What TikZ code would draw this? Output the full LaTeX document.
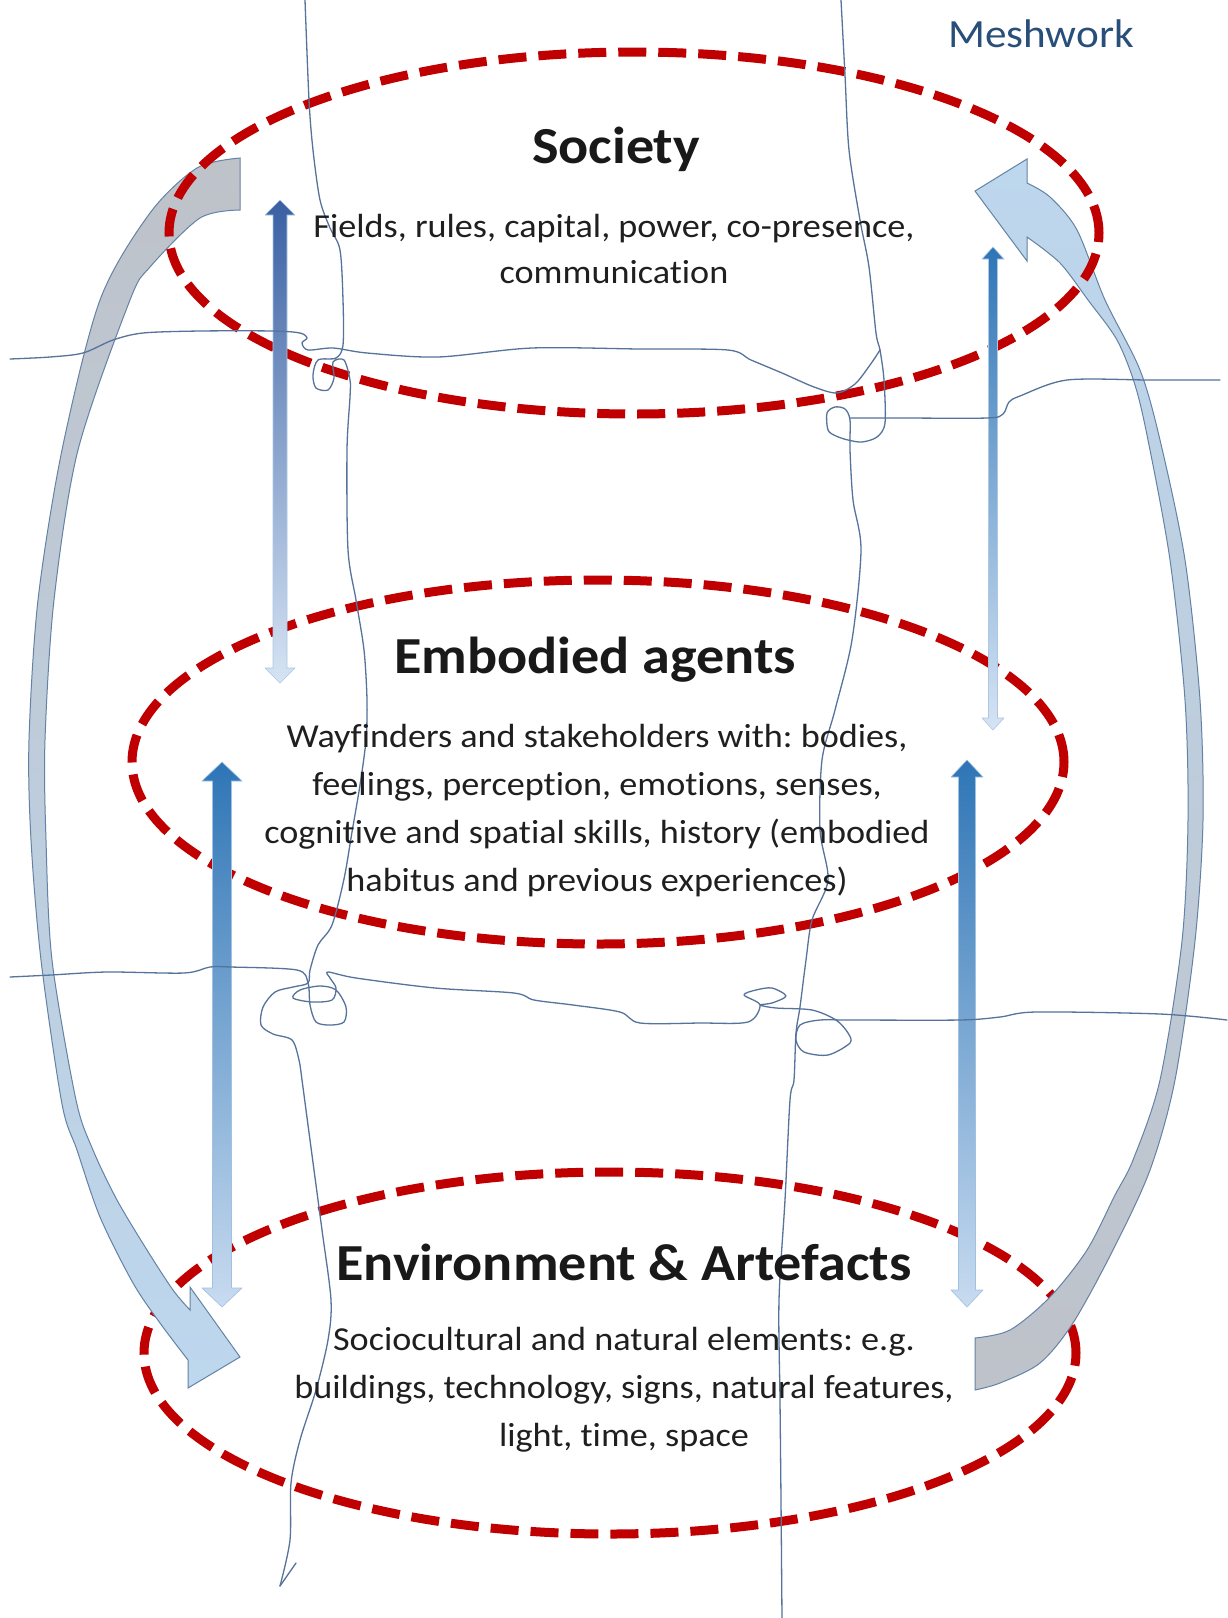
\documentclass[tikz,border=0pt]{standalone}
\usepackage{fontspec}
\setmainfont{Carlito}
\newfontfamily\calib[FakeStretch=1.08,Ligatures={NoCommon,NoRare,NoContextual}]{Carlito}
\usetikzlibrary{shapes.geometric}
\frenchspacing

\definecolor{dashred}{RGB}{192,0,0}
\definecolor{meshline}{RGB}{85,115,155}
\definecolor{meshtext}{RGB}{40,78,122}
\definecolor{arrgrey}{RGB}{190,194,201}
\definecolor{arrblue}{RGB}{189,215,238}
\definecolor{arredge}{RGB}{100,130,165}
\definecolor{vdark}{RGB}{46,117,182}
\definecolor{vdarkB}{RGB}{58,96,163}
\definecolor{vlight}{RGB}{214,228,244}
\definecolor{vlightB}{RGB}{200,219,240}

% double headed gradient arrow: x, y top tip, y bottom tip, head length, head half width, shaft half width, top colour, bottom colour
\newcommand{\dblarrow}[8]{%
  \shadedraw[top color=#7, bottom color=#8, draw=#8!75!vdark, line width=0.6pt, line join=round]
   (#1,#2) -- ({#1+#5},{#2+#4}) -- ({#1+#6},{#2+#4}) -- ({#1+#6},{#3-#4}) -- ({#1+#5},{#3-#4})
   -- (#1,#3) -- ({#1-#5},{#3-#4}) -- ({#1-#6},{#3-#4}) -- ({#1-#6},{#2+#4}) -- ({#1-#5},{#2+#4}) -- cycle;}

\begin{document}
\begin{tikzpicture}[x=1pt,y=-1pt,
  ring/.style={ellipse, draw=dashred, line width=9pt, dash pattern=on 28pt off 12pt, inner sep=0pt},
  thread/.style={draw=meshline, line width=1.3pt, line join=round, line cap=round},
  titletext/.style={anchor=base, font={\calib\bfseries\fontsize{52}{60}\selectfont}, text=black!90},
  bodytext/.style={anchor=base, font={\calib\fontsize{33.5}{45}\selectfont}, text=black!88},
  bigarrow/.style={draw=arredge, line width=1pt, line join=miter},
]
\fill[white] (0,0) rectangle (1227,1618);
\useasboundingbox (0,0) rectangle (1227,1618);

% lowest ring (behind the curved arrows)
\node[ring, minimum width=932pt, minimum height=362pt] (env) at (610,1353) {};

% left curved arrow (grey at top, blue at the head)
\shadedraw[bigarrow, top color=arrgrey, bottom color=arrblue]
  plot[smooth] coordinates {(240,158) (197,168) (150,213) (100,300) (62,450) (38,600) (29,740) (31,840) (41,960) (62,1104) (77,1150) (100,1217) (133,1283) (160,1323) (188,1360)}
  -- (188,1388) -- (240,1357) -- (190,1287) -- (190,1310)
  -- plot[smooth] coordinates {(190,1310) (173,1290) (147,1250) (117,1200) (93,1150) (76,1100) (52,960) (46,840) (45,740) (54,600) (78,450) (130,300) (150,267) (200,218) (240,210)}
  -- cycle;

% right curved arrow (grey at bottom, blue at the head)
\shadedraw[bigarrow, top color=arrblue, bottom color=arrgrey]
  plot[smooth] coordinates {(975,1338) (1010,1330) (1050,1297) (1087,1250) (1115,1195) (1133,1160) (1160,1080) (1182,941) (1188,820) (1185,700) (1170,560) (1148,440) (1135,385) (1117,340) (1088,300) (1060,263) (1027,237)}
  -- (1027,261) -- (975,191) -- (1027,159) -- (1027,183)
  -- plot[smooth] coordinates {(1027,183) (1050,197) (1077,230) (1105,300) (1140,370) (1160,440) (1185,560) (1200,700) (1203,820) (1195,941) (1175,1080) (1150,1170) (1113,1250) (1073,1323) (1040,1363) (1000,1383) (975,1390)}
  -- cycle;

% upper rings
\node[ring, minimum width=930pt, minimum height=362pt] (soc) at (634,233) {};
\node[ring, minimum width=932pt, minimum height=364pt] (emb) at (598,762) {};

% vertical gradient arrows
\dblarrow{280}{200}{683}{15}{15}{7}{vdarkB}{vlight}
\dblarrow{993}{247}{730}{12}{11}{4.5}{vdark}{vlight}
\dblarrow{222}{762}{1307}{19}{20}{9.5}{vdark}{vlightB}
\dblarrow{967}{760}{1307}{17}{16}{8.5}{vdark}{vlightB}

% meshwork threads
% thread A (left, top to bottom)
\draw[thread] plot[smooth, tension=0.5] coordinates {(305,0) (309,100) (313,150) (320,200) (330,228) (340,250) (343,300) (343,345) (336,358) (318,360) (313,375) (316,388) (328,390) (334,378) (333,362) (344,360) (350,380) (350,397) (347,450) (348,550) (356,600) (364,650) (367,700) (366,740) (360,785) (352,832) (344,879) (332,925) (318,945) (310,970) (308,983) (293,987) (275,992) (263,1007) (261,1025) (273,1034) (292,1040) (299,1060) (302,1080) (306,1110) (314,1170) (322,1230) (331,1300) (328,1340) (316,1390) (300,1440) (291,1483) (290,1540) (280,1586)};
\draw[thread] (280,1586) -- (296,1563);
% thread B (right, top to bottom)
\draw[thread] plot[smooth, tension=0.5] coordinates {(841,0) (845,75) (849,150) (860,220) (869,267) (876,333) (880,350) (884,380) (885,423) (877,437) (862,442) (848,440) (836,436) (828,430) (827,413) (835,407) (845,409) (850,420) (850,450) (853,500) (861,550) (852,640) (835,710) (822,760) (820,830) (828,880) (812,920) (806,960) (800,1007) (796,1033) (794,1080) (790,1100) (785,1200) (779,1300) (780,1400) (781,1500) (782,1618)};
% thread C (upper horizontal)
\draw[thread] plot[smooth, tension=0.5] coordinates {(10,359) (50,357) (83,353) (113,340) (143,333) (200,331) (273,331) (300,333) (307,338) (302,343) (308,350) (333,348) (367,353) (438,357) (532,348) (640,349) (728,350) (751,360) (782,373) (814,387) (837,393) (855,384) (870,365) (880,350)};
\draw[thread] plot[smooth, tension=0.5] coordinates {(850,418) (900,418) (987,418) (1003,414) (1009,402) (1020,396) (1067,380) (1150,380) (1220,380)};
% thread D (lower horizontal)
\draw[thread] plot[smooth, tension=0.5] coordinates {(10,977) (51,975) (107,972) (184,973) (210,967) (231,967) (297,970) (308,983) (310,1005) (316,1022) (330,1025) (344,1022) (346,1007) (336,990) (320,986) (300,990) (293,998) (312,1002) (332,1000) (336,988) (330,978) (328,972) (356,978) (435,988) (514,993) (534,1000) (573,1005) (620,1012) (640,1023) (700,1023) (748,1022) (760,1005) (744,995) (756,990) (772,988) (786,996) (772,1003) (760,1005) (776,1008) (812,1010) (836,1020) (848,1033) (850,1043) (828,1055) (804,1052) (796,1040) (800,1025) (820,1020) (850,1020) (960,1020) (1000,1017) (1036,1012) (1160,1014) (1227,1020)};

% texts
\node[anchor=base, font={\calib\fontsize{40}{48}\selectfont}, text=meshtext] (mesh) at (1041,47) {Meshwork};

\node[titletext] (socT) at (616,163) {Society};
\node[bodytext] (socB1) at (614,237) {Fields, rules, capital, power, co-presence,};
\node[bodytext] (socB2) at (614,283) {communication};

\node[titletext] (embT) at (595,673) {Embodied agents};
\node[bodytext] (embB1) at (597,747) {Wayfinders and stakeholders with: bodies,};
\node[bodytext] (embB2) at (597,795) {feelings, perception, emotions, senses,};
\node[bodytext] (embB3) at (597,843) {cognitive and spatial skills, history (embodied};
\node[bodytext] (embB4) at (597,891) {habitus and previous experiences)};

\node[titletext] (envT) at (624,1280) {Environment \& Artefacts};
\node[bodytext] (envB1) at (624,1350) {Sociocultural and natural elements: e.g.};
\node[bodytext] (envB2) at (624,1398) {buildings, technology, signs, natural features,};
\node[bodytext] (envB3) at (624,1446) {light, time, space};
\end{tikzpicture}
\end{document}
